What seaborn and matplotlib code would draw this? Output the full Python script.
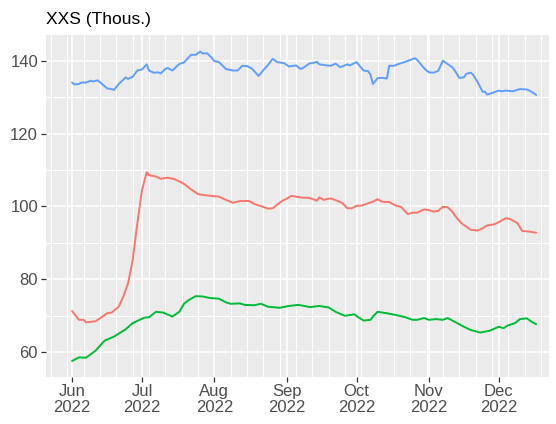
import pandas as pd
import seaborn as sns
import matplotlib.pyplot as plt
import matplotlib.dates as mdates
from matplotlib.ticker import MultipleLocator

# values, day offsets counted from 1 Jun 2022
start = pd.Timestamp('2022-06-01')

blue_days = [0, 1, 3, 4, 6, 8, 9, 11, 12, 15, 16, 18, 20, 23, 24, 26, 28, 30,
             32, 33, 35, 37, 38, 40, 41, 43, 46, 48, 49, 51, 53, 55, 56, 58,
             60, 61, 63, 66, 69, 71, 73, 75, 77, 80, 82, 84, 86, 88, 91, 93,
             96, 98, 99, 102, 103, 105, 106, 108, 111, 113, 115, 118, 119, 122,
             123, 125, 127, 128, 129, 131, 133, 135, 136, 138, 140, 143, 145,
             147, 148, 151, 153, 155, 157, 159, 161, 163, 164, 166, 168, 169,
             171, 172, 174, 176, 177, 178, 180, 183, 184, 186, 189, 192, 195,
             197, 199]
blue_vals = [134.0, 133.5, 133.6, 134.0, 134.0, 134.5, 134.3, 134.6, 134.1,
             132.4, 132.3, 132.0, 133.6, 135.4, 135.0, 135.6, 137.3, 137.6,
             139.0, 137.3, 136.7, 136.8, 136.5, 137.7, 138.0, 137.3, 139.1,
             139.5, 140.2, 141.6, 141.6, 142.5, 142.0, 142.0, 140.7, 139.9,
             139.6, 137.7, 137.3, 137.3, 138.6, 138.5, 137.9, 135.8, 137.4,
             138.8, 140.5, 139.6, 139.3, 138.4, 138.7, 137.7, 138.0, 139.3,
             139.3, 139.7, 139.0, 138.8, 138.6, 139.2, 138.2, 139.0, 138.7,
             139.6, 138.8, 137.3, 137.1, 136.1, 133.6, 135.2, 135.3, 135.1,
             138.6, 138.6, 139.1, 139.7, 140.2, 140.7, 140.2, 137.9, 136.8,
             136.7, 137.2, 140.0, 139.1, 138.2, 137.4, 135.3, 135.4, 136.4,
             136.7, 136.1, 134.0, 131.5, 131.5, 130.7, 131.1, 131.8, 131.6,
             131.8, 131.6, 132.2, 132.1, 131.5, 130.6]

red_days = [0, 3, 5, 6, 10, 12, 15, 17, 20, 22, 24, 26, 28, 30, 32, 33, 36, 38,
            41, 44, 48, 51, 54, 58, 63, 66, 69, 72, 76, 78, 81, 84, 86, 90, 92,
            94, 96, 99, 101, 103, 105, 106, 108, 109, 111, 114, 116, 118, 120,
            122, 124, 127, 129, 131, 133, 136, 139, 141, 144, 146, 148, 151,
            153, 155, 157, 159, 161, 163, 165, 167, 169, 171, 174, 176, 178,
            181, 183, 186, 188, 191, 193, 196, 198, 199]
red_vals = [71.3, 68.9, 68.9, 68.2, 68.5, 69.3, 70.7, 70.9, 72.5, 75.3, 78.9,
            85.3, 95.4, 104.5, 109.4, 108.6, 108.2, 107.6, 107.9, 107.5, 106.2,
            104.7, 103.4, 103.0, 102.7, 101.8, 101.0, 101.5, 101.5, 100.7,
            100.1, 99.4, 99.5, 101.5, 102.1, 102.9, 102.7, 102.4, 102.4, 102.1,
            101.6, 102.5, 101.8, 102.0, 102.2, 101.5, 100.9, 99.5, 99.5, 100.2,
            100.2, 100.9, 101.3, 102.0, 101.3, 101.2, 100.2, 99.9, 97.9, 98.3,
            98.3, 99.2, 99.0, 98.6, 98.8, 99.9, 99.8, 98.6, 96.8, 95.4, 94.5,
            93.6, 93.4, 94.0, 94.8, 95.1, 95.7, 96.8, 96.5, 95.4, 93.3, 93.1,
            92.9, 92.8]

green_days = [0, 3, 6, 10, 14, 18, 23, 26, 31, 33, 36, 39, 43, 46, 48, 50, 53,
              56, 59, 63, 66, 68, 72, 74, 78, 81, 84, 89, 93, 97, 102, 106, 110,
              113, 117, 121, 123, 125, 128, 129, 131, 135, 139, 143, 146, 148,
              151, 153, 156, 159, 161, 164, 168, 171, 175, 179, 183, 185, 187,
              190, 192, 195, 197, 199]
green_vals = [57.6, 58.6, 58.5, 60.4, 63.2, 64.3, 66.3, 68.0, 69.5, 69.6, 71.1,
              70.9, 69.8, 71.1, 73.3, 74.3, 75.4, 75.3, 74.9, 74.7, 73.7, 73.3,
              73.4, 73.0, 72.9, 73.3, 72.5, 72.2, 72.7, 73.0, 72.4, 72.7, 72.3,
              71.1, 70.0, 70.4, 69.5, 68.7, 68.9, 69.8, 71.1, 70.7, 70.2, 69.6,
              68.9, 68.9, 69.4, 68.9, 69.1, 68.9, 69.4, 68.4, 67.0, 66.1, 65.4,
              65.9, 67.0, 66.6, 67.4, 68.0, 69.1, 69.3, 68.4, 67.7]

frames = []
for name, days, vals in [('a', red_days, red_vals),
                         ('b', green_days, green_vals),
                         ('c', blue_days, blue_vals)]:
    frames.append(pd.DataFrame({'date': start + pd.to_timedelta(days, unit='D'),
                                'value': vals, 'series': name}))
df = pd.concat(frames, ignore_index=True)

sns.set_theme(style='darkgrid', rc={'axes.facecolor': '#EBEBEB',
                                    'grid.color': 'white'})
plt.rcParams['font.family'] = ['Liberation Sans', 'DejaVu Sans']

fig = plt.figure(figsize=(5.56, 4.24), dpi=100)
ax = fig.add_axes([0.0822, 0.1116, 0.9052, 0.8059])

sns.lineplot(data=df, x='date', y='value', hue='series',
             palette={'a': '#F8766D', 'b': '#00BA38', 'c': '#619CFF'},
             linewidth=1.4, legend=False, ax=ax)

ax.set_xlim(start - pd.Timedelta(days=11.3), start + pd.Timedelta(days=204.5))
ax.set_ylim(53.3, 147.05)

ax.xaxis.set_major_locator(mdates.MonthLocator())
ax.xaxis.set_major_formatter(mdates.DateFormatter('%b\n%Y'))
ax.xaxis.set_minor_locator(mdates.WeekdayLocator(byweekday=mdates.MO))
ax.yaxis.set_major_locator(MultipleLocator(20))
ax.yaxis.set_minor_locator(MultipleLocator(10))

ax.grid(which='major', color='white', linewidth=1.1)
ax.grid(which='minor', color='white', linewidth=0.8)
ax.tick_params(which='major', length=3.5, width=0.9, color='#333333',
               labelcolor='#4D4D4D', labelsize=12, pad=2, bottom=True, left=True)
ax.tick_params(which='minor', length=0)
for lab in ax.get_xticklabels():
    lab.set_linespacing(1.05)

ax.set_xlabel('')
ax.set_ylabel('')
for s in ax.spines.values():
    s.set_visible(False)

ax.set_title('XXS (Thous.)', loc='left', fontsize=12.5, color='black', pad=8)

fig.savefig('out.png', dpi=100)
